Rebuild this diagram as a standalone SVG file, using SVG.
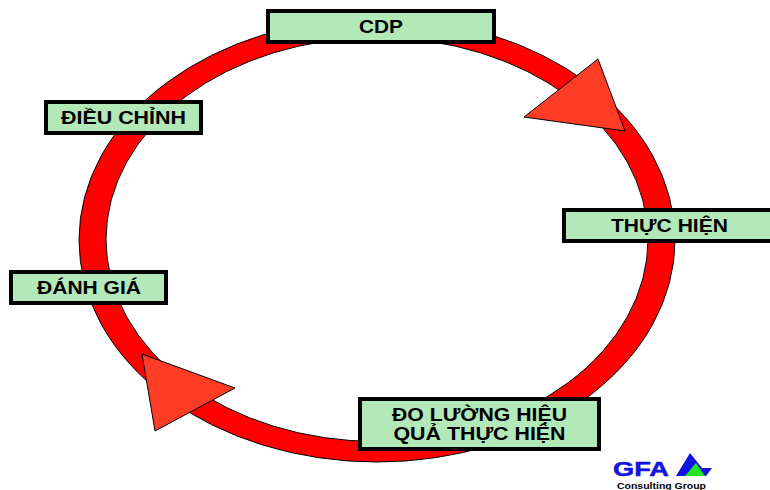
<svg xmlns="http://www.w3.org/2000/svg" width="770" height="490" viewBox="0 0 770 490">
<style>
.box{fill:#b3e8b8;stroke:#000;stroke-width:4}
.t{font-family:"Liberation Sans",Arial,sans-serif;font-weight:700;font-size:18px;fill:#000;text-anchor:middle}
.tri{fill:#ff3c26;stroke:#000;stroke-width:1}
</style>
<rect width="770" height="490" fill="#fff"/>
<g id="connectors">
<path id="ring" fill="#f00" fill-rule="evenodd" stroke="#000" stroke-width="1" d="M79 240a298 222 0 1 0 596 0a298 222 0 1 0-596 0ZM106 239.500a271 202 0 1 1 542 0a271 202 0 1 1-542 0Z"/>
<polygon class="tri" points="598,59 625,131 524,117"/>
<polygon class="tri" points="142,354 235,388 155,431"/>
</g>
<g id="node-cdp"><rect class="box" x="268" y="11" width="226" height="31"/><text class="t" x="381" y="33" textLength="44" lengthAdjust="spacingAndGlyphs">CDP</text></g>
<g id="node-dieu-chinh"><rect class="box" x="46" y="102" width="155" height="31"/><text class="t" x="123.500" y="124" textLength="125" lengthAdjust="spacingAndGlyphs">ĐIỀU CHỈNH</text></g>
<g id="node-thuc-hien"><rect class="box" x="564" y="210" width="208" height="31"/><text class="t" x="669.500" y="232" textLength="117" lengthAdjust="spacingAndGlyphs">THỰC HIỆN</text></g>
<g id="node-danh-gia"><rect class="box" x="11" y="272" width="155" height="31"/><text class="t" x="89" y="294" textLength="104" lengthAdjust="spacingAndGlyphs">ĐÁNH GIÁ</text></g>
<g id="node-do-luong"><rect class="box" x="360" y="399" width="239" height="50"/><text class="t" x="479.500" y="421" textLength="175" lengthAdjust="spacingAndGlyphs">ĐO LƯỜNG HIỆU</text><text class="t" x="479.500" y="440" textLength="172" lengthAdjust="spacingAndGlyphs">QUẢ THỰC HIỆN</text></g>
<g id="logo">
<text x="613" y="476" font-family="'Liberation Sans',Arial,sans-serif" font-weight="700" font-size="20" fill="#1414e0" stroke="#1414e0" stroke-width="0.5" textLength="56" lengthAdjust="spacingAndGlyphs">GFA</text>
<polygon points="676,476 690,453 702,468 712,468 706,476" fill="#1414e0"/>
<polygon points="685,476 696,463 705,476" fill="#22e622"/>
<text x="661.500" y="488.500" font-family="'Liberation Sans',Arial,sans-serif" font-weight="700" font-size="9.500" fill="#000" text-anchor="middle" textLength="89" lengthAdjust="spacingAndGlyphs">Consulting Group</text>
</g>
</svg>
